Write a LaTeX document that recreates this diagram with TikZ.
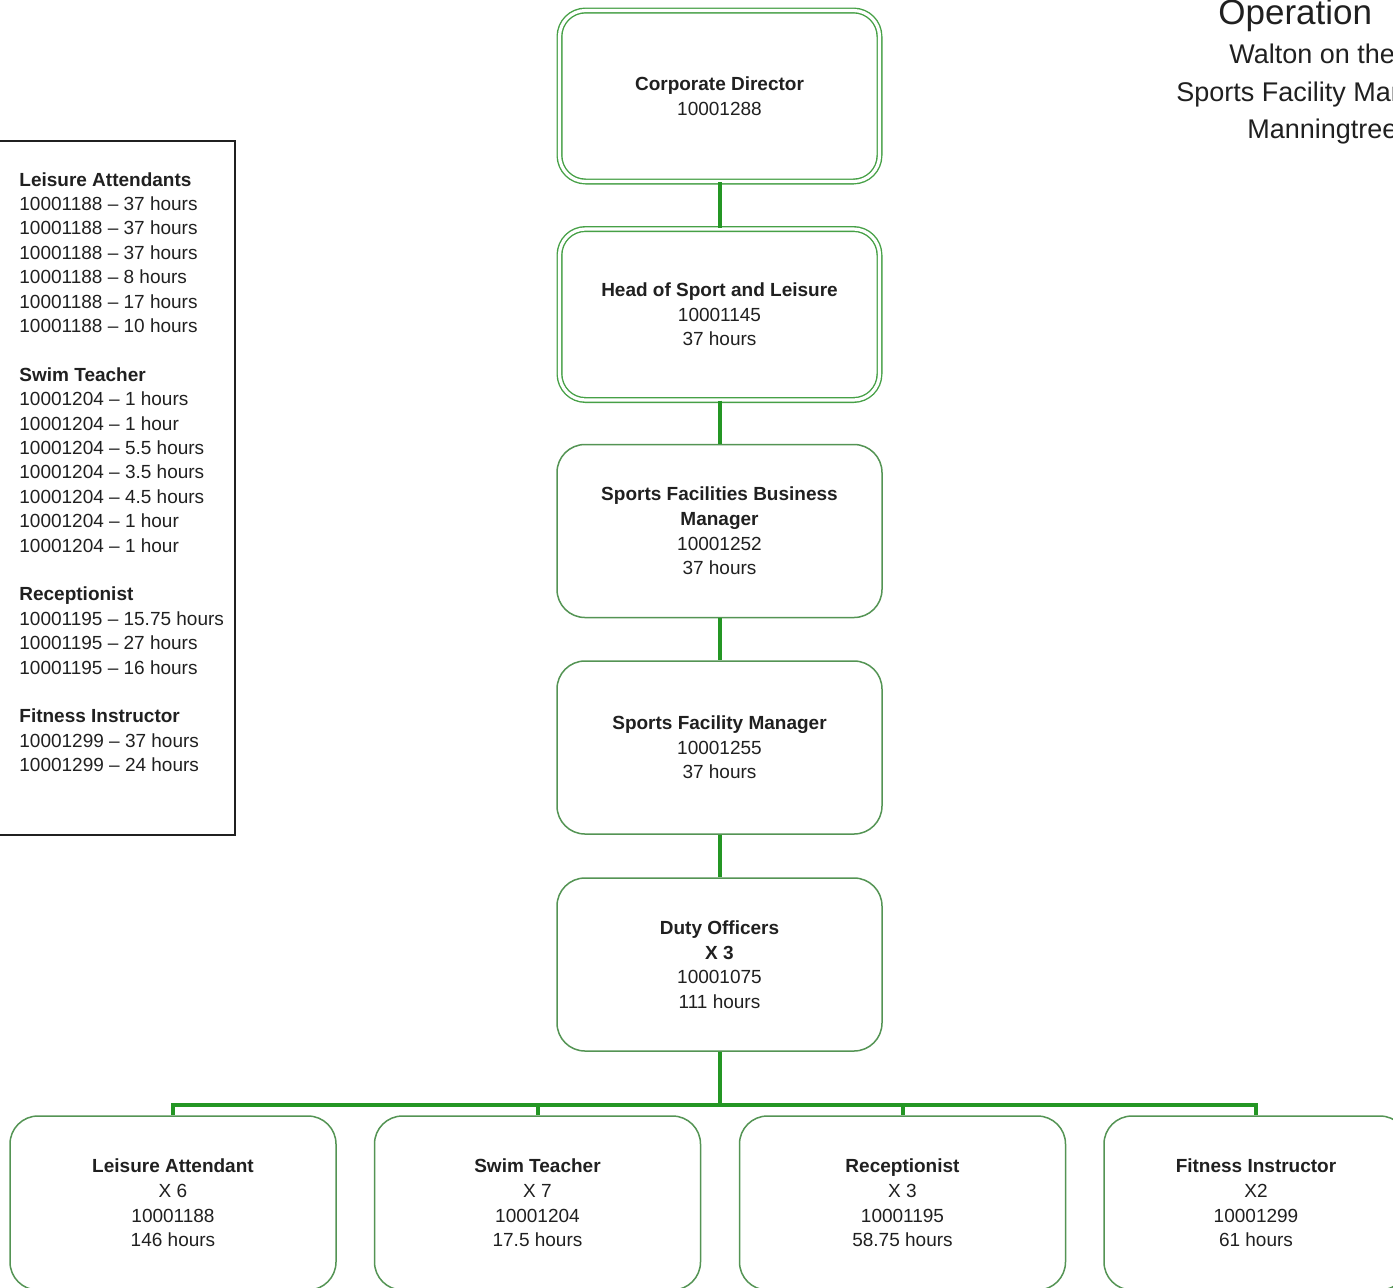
\documentclass[tikz,border=0pt]{standalone}
\usepackage{fontspec}
\setmainfont{Liberation Sans}

\definecolor{linkgreen}{RGB}{36,150,36}
\definecolor{boxgreen}{RGB}{84,148,84}
\definecolor{seniorgreen}{RGB}{70,160,70}
\definecolor{ink}{RGB}{32,32,32}

\tikzset{
  post/.style={draw=boxgreen, line width=0.75pt, rounded corners=14pt, fill=white,
    align=center, text=ink, inner sep=0pt,
    font=\fontsize{9.5}{12.3}\selectfont},
  postbox/.style={post, minimum width=162.5pt, minimum height=86.5pt},
  senior/.style={post, draw=seniorgreen, line width=0.7pt, double=white,
    double distance=1.6pt, rounded corners=13pt,
    minimum width=160pt, minimum height=85.5pt},
  teambox/.style={post, minimum width=163pt, minimum height=87pt},
  link/.style={draw=linkgreen, line width=2pt},
  heading/.style={anchor=base west, inner sep=0pt, text=ink},
}

\begin{document}
\begin{tikzpicture}[x=0.5pt, y=-0.5pt]
\useasboundingbox (0,0) rectangle (1393,1287);
\begin{scope}
\clip (0,0) rectangle (1393,1287);

% title lines, running off the right edge
\node[heading, font=\fontsize{17.5}{20}\selectfont] (title) at (1218,24) {Operation};
\node[heading, font=\fontsize{13.5}{16}\selectfont] (sub1) at (1229,63) {Walton on the};
\node[heading, font=\fontsize{13.5}{16}\selectfont] (sub2) at (1176,101) {Sports Facility Manager};
\node[heading, font=\fontsize{13.5}{16}\selectfont] (sub3) at (1247,138) {Manningtree};

% key of contracted hours
\node[draw=ink, line width=1pt, minimum width=119.5pt, minimum height=347pt,
      anchor=north west, inner sep=0pt] (keyframe) at (-5,140) {};
\node[anchor=north west, inner sep=0pt, align=left, text=ink,
      font=\fontsize{9.5}{12.2}\selectfont] (key) at (19,172) {%
\textbf{Leisure Attendants}\\
10001188 – 37 hours\\
10001188 – 37 hours\\
10001188 – 37 hours\\
10001188 – 8 hours\\
10001188 – 17 hours\\
10001188 – 10 hours\\[12.2pt]
\textbf{Swim Teacher}\\
10001204 – 1 hours\\
10001204 – 1 hour\\
10001204 – 5.5 hours\\
10001204 – 3.5 hours\\
10001204 – 4.5 hours\\
10001204 – 1 hour\\
10001204 – 1 hour\\[12.2pt]
\textbf{Receptionist}\\
10001195 – 15.75 hours\\
10001195 – 27 hours\\
10001195 – 16 hours\\[12.2pt]
\textbf{Fitness Instructor}\\
10001299 – 37 hours\\
10001299 – 24 hours};

% management chain
\node[senior] (cd) at (719.5,96) {\textbf{Corporate Director}\\10001288};
\node[senior] (hsl) at (719.5,314.5) {\textbf{Head of Sport and Leisure}\\10001145\\37 hours};
\node[postbox] (sfbm) at (719.5,531) {\textbf{Sports Facilities Business}\\\textbf{Manager}\\10001252\\37 hours};
\node[postbox] (sfm) at (719.5,747.5) {\textbf{Sports Facility Manager}\\10001255\\37 hours};
\node[postbox] (duty) at (719.5,964.5) {\textbf{Duty Officers}\\\textbf{X 3}\\10001075\\111 hours};

% front-line teams
\node[teambox] (la) at (173,1203) {\textbf{Leisure Attendant}\\X 6\\10001188\\146 hours};
\node[teambox] (st) at (537.5,1203) {\textbf{Swim Teacher}\\X 7\\10001204\\17.5 hours};
\node[teambox] (rec) at (902.5,1203) {\textbf{Receptionist}\\X 3\\10001195\\58.75 hours};
\node[post, minimum width=152pt, minimum height=87pt] (fi) at (1256,1203) {\textbf{Fitness Instructor}\\X2\\10001299\\61 hours};

% reporting lines
\draw[link] (cd.south) -- (hsl.north);
\draw[link] (hsl.south) -- (sfbm.north);
\draw[link] (sfbm.south) -- (sfm.north);
\draw[link] (sfm.south) -- (duty.north);
\coordinate (fork) at (719.5,1105);
\draw[link] (duty.south) -- (fork);
\draw[link] (fork) -| (la.north);
\draw[link] (fork) -| (st.north);
\draw[link] (fork) -| (rec.north);
\draw[link] (fork) -| (fi.north);
\end{scope}
\end{tikzpicture}
\end{document}
